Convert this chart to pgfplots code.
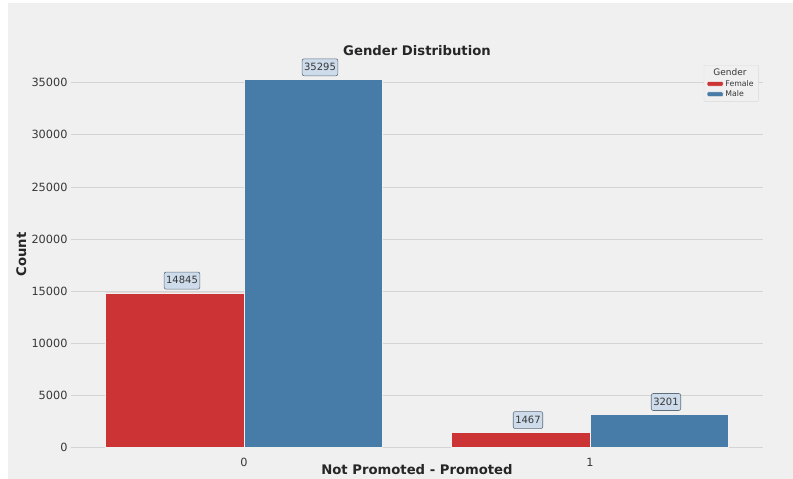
\documentclass[border=0pt]{standalone}
\usepackage{pgfplots}
\pgfplotsset{compat=1.18}
\usepackage{fontspec}
\setmainfont{DejaVu Sans}
\definecolor{bg}{RGB}{240,240,240}
\definecolor{gridc}{RGB}{212,212,212}
\definecolor{female}{RGB}{203,51,53}
\definecolor{male}{RGB}{71,124,168}
\definecolor{boxfill}{RGB}{205,219,234}
\definecolor{boxdraw}{RGB}{95,110,125}
\definecolor{txt}{RGB}{55,55,55}
\definecolor{legc}{RGB}{218,218,218}
\pgfplotsset{
  patch legend/.style={legend image code/.code={\fill[##1] (0pt,-2.3pt) rectangle (16pt,2.3pt);}},
}
\begin{document}
\begin{tikzpicture}[x=1pt,y=1pt]
\path[fill=white] (0,0) rectangle (793,479);
\fill[bg] (8,0) rectangle (793,476);
\begin{axis}[
  at={(71pt,31.3pt)}, anchor=south west,
  scale only axis, width=692pt, height=386.5pt,
  xmin=-0.5, xmax=1.5, ymin=0, ymax=37060,
  clip=false,
  axis line style={draw=none},
  major tick length=0pt,
  ymajorgrids, grid style={gridc, line width=0.9pt},
  xtick={0,1}, ytick={0,5000,...,35000},
  scaled y ticks=false,
  tick label style={font=\fontsize{11.3}{13}\selectfont, text=txt},
  /pgf/number format/assume math mode=true,
  /pgf/number format/1000 sep={},
  x tick label style={yshift=-7pt},
  title={Gender Distribution},
  title style={at={(axis description cs:0.5,0.9987)}, anchor=base,
    font=\bfseries\fontsize{13.2}{15}\selectfont, text=black!85},
  xlabel={Not Promoted - Promoted},
  xlabel style={at={(axis description cs:0.5,-0.070)}, anchor=base,
    font=\bfseries\fontsize{13.2}{15}\selectfont, text=black!85},
  ylabel={Count},
  ylabel style={at={(axis description cs:-0.0650,0.5)}, anchor=base,
    font=\bfseries\fontsize{13.2}{15}\selectfont, text=black!85},
  legend style={at={(0.994,0.990)}, anchor=north east, fill=bg, draw=legc,
    rounded corners=1pt, font=\fontsize{7.8}{9}\selectfont, text=txt,
    row sep=-1pt, inner xsep=3pt, inner ysep=1.5pt,
    /tikz/every even column/.append style={column sep=3pt}},
  legend cell align=left,
  every node near coord/.append style={fill=boxfill, draw=boxdraw,
    rounded corners=2pt, font=\fontsize{10}{12}\selectfont, text=txt,
    inner xsep=2pt, inner ysep=3pt, text height=8.5pt, text depth=2.5pt,
    anchor=south, yshift=3.5pt, line width=0.6pt},
  nodes near coords={\pgfmathprintnumber[fixed,precision=0,1000 sep={},assume math mode=true]{\pgfplotspointmeta}},
]
\addlegendimage{empty legend}
\addlegendentry{\hspace{-12pt}\fontsize{9}{10}\selectfont Gender}
% not promoted (0) and promoted (1), female counts
\addplot[ybar, bar width=0.4, bar shift=-0.2, fill=female, draw=bg,
  line width=0.5pt, patch legend,
  every node near coord/.append style={xshift=-62pt}]
  coordinates {(0,14845) (1,1467)};
\addlegendentry{Female}
% male counts
\addplot[ybar, bar width=0.4, bar shift=0.2, fill=male, draw=bg,
  line width=0.5pt, patch legend,
  every node near coord/.append style={xshift=76pt}]
  coordinates {(0,35295) (1,3201)};
\addlegendentry{Male}
\end{axis}
\end{tikzpicture}
\end{document}
